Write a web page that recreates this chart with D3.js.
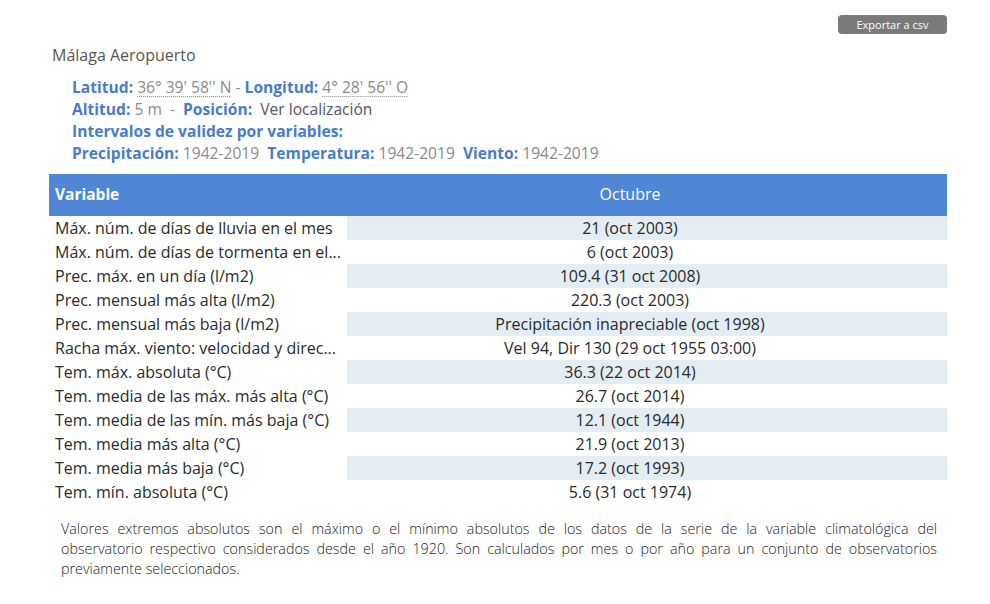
<!DOCTYPE html>
<html>
<head>
<meta charset="utf-8">
<script src="https://cdn.jsdelivr.net/npm/d3@7"></script>
<style>
  body { margin: 0; background: #fff; }
  svg text { font-family: "Open Sans", sans-serif; white-space: pre; }
</style>
</head>
<body>
<svg id="tabla"></svg>
<script>
// datos de la tabla (valores extremos, octubre)
var variables = [
  "Máx. núm. de días de lluvia en el mes",
  "Máx. núm. de días de tormenta en el mes",
  "Prec. máx. en un día (l/m2)",
  "Prec. mensual más alta (l/m2)",
  "Prec. mensual más baja (l/m2)",
  "Racha máx. viento: velocidad y dirección (km/h)",
  "Tem. máx. absoluta (°C)",
  "Tem. media de las máx. más alta (°C)",
  "Tem. media de las mín. más baja (°C)",
  "Tem. media más alta (°C)",
  "Tem. media más baja (°C)",
  "Tem. mín. absoluta (°C)"
];
var octubre = [
  "21 (oct 2003)",
  "6 (oct 2003)",
  "109.4 (31 oct 2008)",
  "220.3 (oct 2003)",
  "Precipitación inapreciable (oct 1998)",
  "Vel 94, Dir 130 (29 oct 1955 03:00)",
  "36.3 (22 oct 2014)",
  "26.7 (oct 2014)",
  "12.1 (oct 1944)",
  "21.9 (oct 2013)",
  "17.2 (oct 1993)",
  "5.6 (31 oct 1974)"
];
var columnas = ["Variable", "Octubre"];
var estacion = "Málaga Aeropuerto";
var latitud = "36° 39' 58'' N", longitud = "4° 28' 56'' O";
var altitud = "5 m";
var intervalos = [["Precipitación:", "1942-2019"], ["Temperatura:", "1942-2019"], ["Viento:", "1942-2019"]];
var nota = [
  "Valores extremos absolutos son el máximo o el mínimo absolutos de los datos de la serie de la variable climatológica del",
  "observatorio respectivo considerados desde el año 1920. Son calculados por mes o por año para un conjunto de observatorios",
  "previamente seleccionados."
];

var width = 990, height = 604;
var azul = "#4f86d6", etiqueta = "#4a7bc8", gris = "#8a8a8a", texto = "#2a2a2a";

var svg = d3.select("#tabla").attr("width", width).attr("height", height);

// boton exportar
var boton = svg.append("g").attr("transform", "translate(838,15)");
boton.append("rect").attr("width", 109).attr("height", 19).attr("rx", 4).attr("fill", "#7a7a7a");
boton.append("text").attr("x", 54.5).attr("y", 13.5).attr("text-anchor", "middle")
  .attr("font-size", 11).attr("fill", "#fff").text("Exportar a csv");

svg.append("text").attr("x", 52).attr("y", 61).attr("font-size", 16).attr("fill", "#555").text(estacion);

// lineas de info
function linea(y, partes) {
  var t = svg.append("text").attr("x", 72).attr("y", y).attr("font-size", 15.6);
  partes.forEach(function (p) {
    var s = t.append("tspan").text(p.t).attr("fill", p.c);
    if (p.b) s.attr("font-weight", "bold");
  });
  return t;
}
var l1 = linea(93, [
  {t: "Latitud: ", c: etiqueta, b: true}, {t: latitud, c: gris},
  {t: " - ", c: gris}, {t: "Longitud: ", c: etiqueta, b: true}, {t: longitud, c: gris}
]);
linea(115, [
  {t: "Altitud: ", c: etiqueta, b: true}, {t: altitud, c: gris},
  {t: "  -  ", c: gris}, {t: "Posición: ", c: etiqueta, b: true}, {t: " Ver localización", c: "#555"}
]);
linea(137, [{t: "Intervalos de validez por variables:", c: etiqueta, b: true}]);
var p4 = [];
intervalos.forEach(function (d, i) {
  p4.push({t: (i ? "  " : "") + d[0] + " ", c: etiqueta, b: true});
  p4.push({t: d[1], c: gris});
});
linea(159, p4);

// subrayado punteado de coordenadas
var tt = l1.selectAll("tspan").nodes();
[1, 4].forEach(function (k) {
  var n = tt[k];
  var a = n.getStartPositionOfChar(0).x;
  var b = n.getEndPositionOfChar(n.getNumberOfChars() - 1).x;
  svg.append("line").attr("x1", a).attr("x2", b).attr("y1", 96.5).attr("y2", 96.5)
    .attr("stroke", gris).attr("stroke-width", 1).attr("stroke-dasharray", "1,1");
});

// tabla
var x0 = 49, colW = [298, 600], headH = 42, rowH = 24, tablaTop = 174, centro = 630;
var y = d3.scaleBand().domain(d3.range(variables.length))
  .range([tablaTop + headH, tablaTop + headH + rowH * variables.length]);

svg.append("rect").attr("x", x0).attr("y", tablaTop).attr("width", colW[0] + colW[1]).attr("height", headH).attr("fill", azul);
svg.append("text").attr("x", x0 + 6).attr("y", tablaTop + 26).attr("font-size", 15.5).attr("font-weight", "bold")
  .attr("fill", "#fff").text(columnas[0]);
svg.append("text").attr("x", centro).attr("y", tablaTop + 26).attr("font-size", 16)
  .attr("text-anchor", "middle").attr("fill", "#fff").text(columnas[1]);

var filas = svg.selectAll(".fila").data(variables).enter().append("g").attr("class", "fila")
  .attr("transform", function (d, i) { return "translate(0," + y(i) + ")"; });

filas.filter(function (d, i) { return i % 2 === 0; }).append("rect")
  .attr("x", x0 + colW[0]).attr("width", colW[1]).attr("height", y.bandwidth()).attr("fill", "#e4edf4");

filas.append("text").attr("x", x0 + 6).attr("y", 17.5).attr("font-size", 16).attr("fill", texto)
  .text(function (d) { return d; })
  .each(function (d) {
    var el = d3.select(this), max = colW[0] - 11, s = d;
    if (this.getComputedTextLength() <= max) return;
    while (s.length && this.getComputedTextLength() > max) {
      s = s.slice(0, -1);
      el.text(s.trimEnd() + "...");
    }
  });

filas.append("text").attr("x", centro).attr("y", 17.5).attr("font-size", 16)
  .attr("text-anchor", "middle").attr("fill", texto)
  .text(function (d, i) { return octubre[i]; });

// nota, letra algo estrecha y justificada con word-spacing
var escala = 0.955, anchoNota = 876;
svg.selectAll(".nota").data(nota).enter().append("text").attr("class", "nota")
  .attr("transform", function (d, i) { return "translate(61," + (534 + i * 20) + ") scale(" + escala + ",1)"; })
  .attr("font-size", 15).attr("font-weight", 300).attr("fill", "#222")
  .text(function (d) { return d; })
  .each(function (d, i) {
    if (i > 1) return;
    var esp = d.split(" ").length - 1;
    var extra = (anchoNota / escala - this.getComputedTextLength()) / esp;
    d3.select(this).attr("word-spacing", extra);
  });
</script>
</body>
</html>
